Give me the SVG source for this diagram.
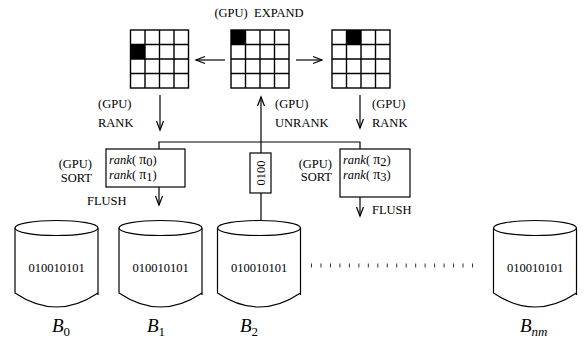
<svg xmlns="http://www.w3.org/2000/svg" xmlns:xlink="http://www.w3.org/1999/xlink" width="584" height="345" viewBox="0 0 584 345">
<style>
  .t { font-family: "Liberation Serif", "Times New Roman", serif; font-size: 12.5px; fill: #000; }
  .it { font-style: italic; }
  .pi { font-size: 14px; }
  .bin { font-family: "Liberation Serif", serif; font-size: 12.5px; fill: #000; text-anchor: middle; }
  .lab { font-family: "Liberation Serif", serif; font-size: 19px; font-style: italic; fill: #000; }
  .sub { font-family: "Liberation Serif", serif; font-size: 13px; fill: #000; }
  .ln { stroke: #000; stroke-width: 1.2; fill: none; }
  .box { stroke: #000; stroke-width: 1.2; fill: #fff; }
  .grid { stroke: #000; stroke-width: 1.4; fill: none; }
</style>
<defs>
  <marker id="arr" markerUnits="userSpaceOnUse" markerWidth="12" markerHeight="10" viewBox="-10 -5 12 10" refX="0" refY="0" orient="auto">
    <path d="M-9,-3.5 L0,0 L-9,3.5" fill="none" stroke="#000" stroke-width="1.2"/>
  </marker>
  <g id="gridshape">
    <rect x="0" y="0" width="58" height="58" class="grid"/>
    <path d="M14.5,0V58M29,0V58M43.5,0V58M0,14.5H58M0,29H58M0,43.5H58" class="grid"/>
  </g>
  <g id="cylshape">
    <path d="M0,0 V65 Q41.5,93 83,65 M83,0 V67" class="ln"/>
    <ellipse cx="41.5" cy="0" rx="41.5" ry="7.5" class="ln"/>
  </g>
</defs>
<rect width="584" height="345" fill="#fff"/>

<g id="expand-label">
  <text class="t" x="259" y="17" text-anchor="middle" xml:space="preserve">(GPU)  EXPAND</text>
</g>

<g id="grid-left">
  <rect x="130.5" y="44.5" width="14.5" height="14.5" fill="#000"/>
  <use xlink:href="#gridshape" x="130.5" y="30"/>
</g>
<g id="grid-middle">
  <rect x="231" y="30" width="14.5" height="14.5" fill="#000"/>
  <use xlink:href="#gridshape" x="231" y="30"/>
</g>
<g id="grid-right">
  <rect x="346.5" y="30" width="14.5" height="14.5" fill="#000"/>
  <use xlink:href="#gridshape" x="332" y="30"/>
</g>

<g id="labels">
  <text class="t" x="98" y="108">(GPU)</text>
  <text class="t" x="98" y="127">RANK</text>
  <text class="t" x="275" y="108">(GPU)</text>
  <text class="t" x="275" y="127">UNRANK</text>
  <text class="t" x="372" y="108">(GPU)</text>
  <text class="t" x="372" y="127">RANK</text>
  <text class="t" x="92" y="168" text-anchor="end">(GPU)</text>
  <text class="t" x="92" y="182" text-anchor="end">SORT</text>
  <text class="t" x="332" y="168" text-anchor="end">(GPU)</text>
  <text class="t" x="332" y="181" text-anchor="end">SORT</text>
  <text class="t" x="87" y="205">FLUSH</text>
  <text class="t" x="372" y="214">FLUSH</text>
</g>

<g id="sort-left">
  <rect x="106" y="149" width="79" height="38" class="box"/>
  <text class="t" x="109" y="164"><tspan class="it">rank</tspan>( <tspan class="pi">π</tspan><tspan dy="1.5">0</tspan><tspan dy="-1.5">)</tspan></text>
  <text class="t" x="109" y="179"><tspan class="it">rank</tspan>( <tspan class="pi">π</tspan><tspan dy="1.5">1</tspan><tspan dy="-1.5">)</tspan></text>
</g>

<g id="sort-right">
  <rect x="340" y="149" width="70" height="48" class="box"/>
  <text class="t" x="343" y="164"><tspan class="it">rank</tspan>( <tspan class="pi">π</tspan><tspan dy="1.5">2</tspan><tspan dy="-1.5">)</tspan></text>
  <text class="t" x="343" y="179"><tspan class="it">rank</tspan>( <tspan class="pi">π</tspan><tspan dy="1.5">3</tspan><tspan dy="-1.5">)</tspan></text>
</g>

<g id="connectors">
  <line x1="225" y1="60" x2="196" y2="60" class="ln" marker-end="url(#arr)"/>
  <line x1="296" y1="60" x2="322" y2="60" class="ln" marker-end="url(#arr)"/>
  <line x1="160" y1="95" x2="160" y2="130" class="ln" marker-end="url(#arr)"/>
  <line x1="360" y1="95" x2="360" y2="128" class="ln" marker-end="url(#arr)"/>
  <line x1="261" y1="142" x2="261" y2="97" class="ln" marker-end="url(#arr)"/>
  <path d="M159,149 V142 H360 V149" class="ln"/>
  <path d="M261,142 V153 M261,193 V220" class="ln"/>
  <line x1="159" y1="187" x2="159" y2="205" class="ln" marker-end="url(#arr)"/>
  <line x1="360" y1="197" x2="360" y2="216" class="ln" marker-end="url(#arr)"/>
  <line x1="311" y1="265.5" x2="475" y2="265.5" stroke="#333" stroke-width="4" stroke-dasharray="1 8.47"/>
</g>

<g id="bitbox">
  <rect x="250" y="153" width="21" height="40" class="box"/>
  <text class="t" transform="translate(265,173) rotate(-90)" text-anchor="middle">0100</text>
</g>

<g id="B0">
  <use xlink:href="#cylshape" x="15" y="228"/>
  <text class="bin" x="56.5" y="272">010010101</text>
  <text class="lab" x="52" y="332">B<tspan class="sub" style="font-style:normal" dy="4">0</tspan></text>
</g>
<g id="B1">
  <use xlink:href="#cylshape" x="119" y="228"/>
  <text class="bin" x="160.5" y="272">010010101</text>
  <text class="lab" x="147" y="332">B<tspan class="sub" style="font-style:normal" dy="4">1</tspan></text>
</g>
<g id="B2">
  <use xlink:href="#cylshape" x="217.5" y="228"/>
  <text class="bin" x="259" y="272">010010101</text>
  <text class="lab" x="240" y="332">B<tspan class="sub" style="font-style:normal" dy="4">2</tspan></text>
</g>
<g id="Bnm">
  <use xlink:href="#cylshape" x="493.5" y="228"/>
  <text class="bin" x="535" y="272">010010101</text>
  <text class="lab" x="520" y="332">B<tspan class="sub" style="font-style:italic" dy="4">nm</tspan></text>
</g>
</svg>
